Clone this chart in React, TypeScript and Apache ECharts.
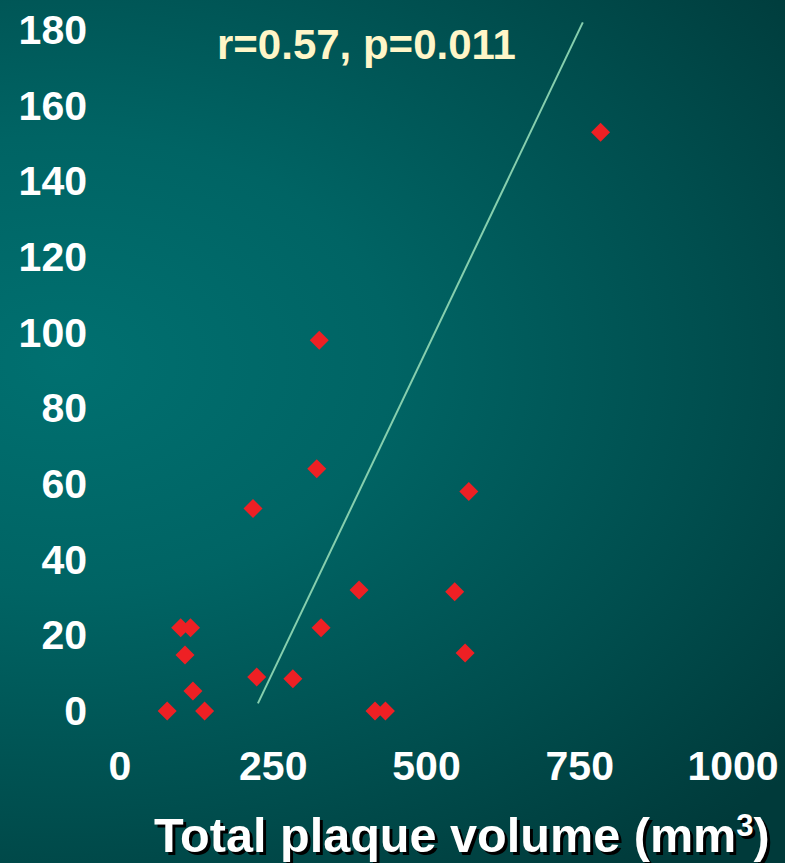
import React, { useEffect, useRef } from "react";
import * as echarts from "echarts";

const plaqueVolume = [784, 325, 321, 217, 569, 390, 546, 328, 99, 115, 106, 119, 77, 138, 223, 282, 416, 433, 563];
const yValues = [153, 98, 64, 53.5, 58, 32, 31.5, 22, 22, 22, 14.8, 5.3, 0, 0, 9, 8.5, 0, 0, 15.3];
const fitLineX = [225, 755];
const fitLineY = [2, 182];
const xTicks = [0, 250, 500, 750, 1000];
const yTicks = [0, 20, 40, 60, 80, 100, 120, 140, 160, 180];
const annotation = "r=0.57, p=0.011";
const xTitle = "Total plaque volume (mm";

export default function App() {
  const ref = useRef<HTMLDivElement>(null);
  useEffect(() => {
    if (!ref.current) return;
    const chart = echarts.init(ref.current, null, { renderer: "svg" });
    const font = "'Liberation Sans', Arial, sans-serif";
    const titleRich = (color: string) => ({
      a: { fontSize: 48.6, fontWeight: "bold", fontFamily: font, fill: color },
      s: { fontSize: 31, fontWeight: "bold", fontFamily: font, fill: color, padding: [0, 0, 18, 0] },
    });
    chart.setOption({
      animation: false,
      backgroundColor: "transparent",
      grid: { left: 120, right: 52, top: 30, bottom: 152 },
      xAxis: {
        type: "value",
        min: xTicks[0],
        max: xTicks[xTicks.length - 1],
        interval: 250,
        axisLine: { show: false },
        axisTick: { show: false },
        splitLine: { show: false },
        axisLabel: {
          color: "#ffffff",
          fontSize: 41,
          fontWeight: "bold",
          fontFamily: font,
          margin: 34,
          formatter: (v: number) => String(v),
        },
      },
      yAxis: {
        type: "value",
        min: yTicks[0],
        max: yTicks[yTicks.length - 1],
        interval: 20,
        axisLine: { show: false },
        axisTick: { show: false },
        splitLine: { show: false },
        axisLabel: {
          color: "#ffffff",
          fontSize: 41,
          fontWeight: "bold",
          fontFamily: font,
          margin: 33,
          formatter: (v: number) => String(v),
        },
      },
      series: [
        {
          type: "line",
          data: fitLineX.map((x, i) => [x, fitLineY[i]]),
          symbol: "none",
          clip: false,
          lineStyle: { color: "#86cfae", width: 2 },
          z: 2,
        },
        {
          type: "scatter",
          data: plaqueVolume.map((x, i) => [x, yValues[i]]),
          symbol: "diamond",
          symbolSize: [19, 19],
          itemStyle: { color: "#ee2024", opacity: 1 },
          z: 3,
        },
      ],
      graphic: [
        {
          type: "text",
          left: 217,
          top: 23,
          style: {
            text: annotation,
            fill: "#fff6c8",
            fontSize: 42,
            fontWeight: "bold",
            fontFamily: font,
          },
        },
        {
          type: "text",
          x: 157,
          y: 813,
          silent: true,
          style: {
            text: "{a|" + xTitle + "}{s|3}{a|)}",
            fill: "#000000",
            rich: titleRich("#000000"),
          },
        },
        {
          type: "text",
          x: 154,
          y: 810,
          style: {
            text: "{a|" + xTitle + "}{s|3}{a|)}",
            fill: "#ffffff",
            rich: titleRich("#ffffff"),
          },
        },
      ],
    });
    return () => chart.dispose();
  }, []);
  return (
    <div style={{ position: "fixed", left: 0, top: 0, width: 798, height: 863, background: "#ffffff" }}>
      <div
        ref={ref}
        style={{
          width: 785,
          height: 863,
          background:
            "radial-gradient(ellipse 120% 75% at 8% 42%, #007070 0%, #006464 35%, #004e4e 70%, #003a3a 100%), #003333",
        }}
      />
    </div>
  );
}
